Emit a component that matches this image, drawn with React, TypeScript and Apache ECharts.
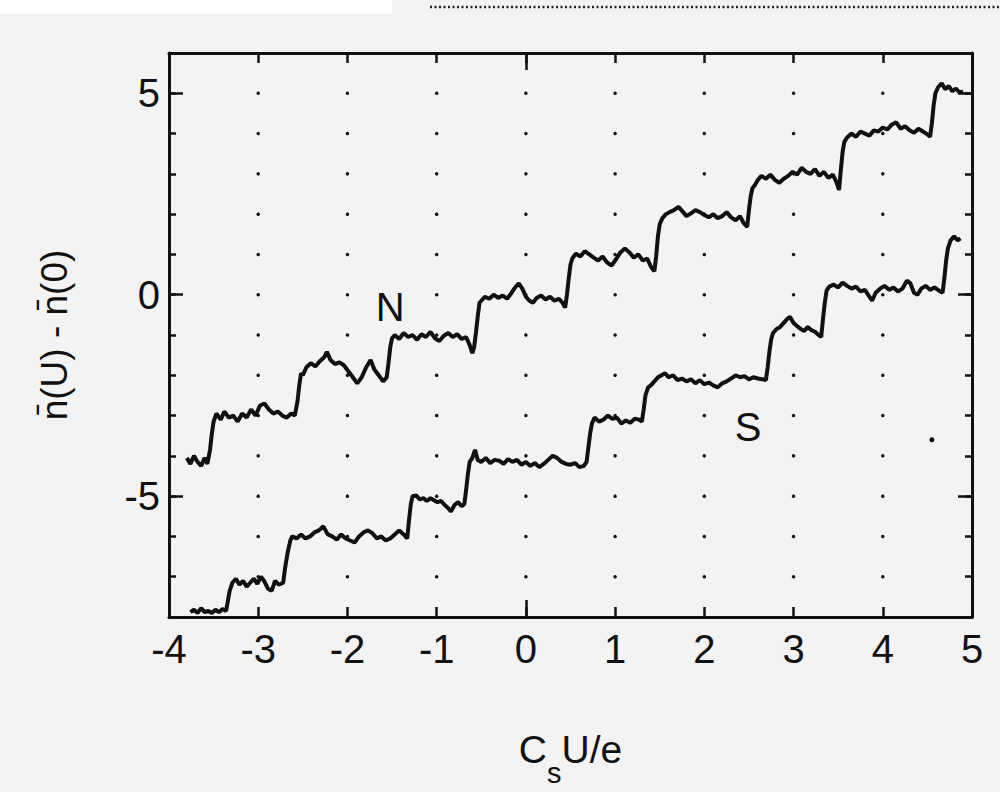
import React, { useEffect, useRef } from 'react';
import * as echarts from 'echarts';

const FONT = "'Liberation Sans', Arial, Helvetica, sans-serif";

const xMin = -4;
const xMax = 5;
const yMin = -8;
const yMax = 6;
const yLabelValues = [-5, 0, 5];
const longTickX = [0];
const longTickY = [-5, 0, 5];
const gridDotXs = [-3, -2, -1, 0, 1, 2, 3, 4];
const gridDotYs = [-7, -6, -5, -4, -3, -2, -1, 0, 1, 2, 3, 4, 5];

const nPoints: [number, number][] = [
  [-3.80, -4.05], [-3.76, -4.20], [-3.72, -4.00], [-3.68, -4.15], [-3.64, -4.25], [-3.60, -4.05], [-3.57, -4.20],
  [-3.54, -3.85], [-3.52, -3.45], [-3.50, -3.15],
  [-3.47, -2.95], [-3.42, -3.10], [-3.38, -2.90], [-3.33, -3.05], [-3.28, -3.00], [-3.23, -3.15], [-3.18, -2.95],
  [-3.13, -3.05], [-3.08, -2.85], [-3.03, -3.00], [-2.98, -2.75], [-2.93, -2.70], [-2.88, -2.85], [-2.83, -2.95],
  [-2.78, -2.90], [-2.73, -3.00], [-2.68, -3.05], [-2.63, -2.95], [-2.59, -3.00],
  [-2.56, -2.65], [-2.54, -2.25], [-2.52, -1.95],
  [-2.50, -2.00], [-2.46, -1.80], [-2.41, -1.70], [-2.36, -1.78], [-2.31, -1.65], [-2.26, -1.55], [-2.23, -1.42],
  [-2.19, -1.62], [-2.14, -1.72], [-2.09, -1.68], [-2.04, -1.75], [-1.99, -1.90], [-1.94, -2.05], [-1.89, -2.20],
  [-1.84, -2.05], [-1.79, -1.80], [-1.74, -1.62], [-1.70, -1.85], [-1.65, -2.00], [-1.60, -2.15], [-1.56, -2.05],
  [-1.54, -1.70], [-1.52, -1.30], [-1.50, -1.08],
  [-1.47, -1.00], [-1.42, -1.10], [-1.37, -0.95], [-1.32, -1.05], [-1.27, -1.00], [-1.22, -1.12], [-1.17, -0.98],
  [-1.12, -1.05], [-1.07, -0.92], [-1.02, -1.08], [-0.97, -1.15], [-0.92, -1.02], [-0.87, -0.95], [-0.82, -1.05],
  [-0.77, -0.98], [-0.72, -1.10], [-0.67, -1.05], [-0.63, -1.25], [-0.60, -1.45], [-0.58, -1.30],
  [-0.56, -0.95], [-0.54, -0.55], [-0.52, -0.20],
  [-0.50, -0.15], [-0.46, -0.05], [-0.41, -0.10], [-0.36, 0.00], [-0.31, -0.08], [-0.26, -0.02], [-0.21, -0.10],
  [-0.16, 0.05], [-0.12, 0.18], [-0.08, 0.28], [-0.04, 0.15], [0.00, -0.05], [0.04, -0.15], [0.08, -0.20],
  [0.12, -0.08], [0.17, -0.02], [0.22, -0.12], [0.27, -0.05], [0.32, -0.15], [0.37, -0.10], [0.41, -0.20], [0.44, -0.32],
  [0.46, 0.00], [0.48, 0.40], [0.50, 0.75],
  [0.52, 0.90], [0.56, 1.02], [0.61, 0.95], [0.66, 1.08], [0.71, 1.00], [0.76, 0.92], [0.81, 0.85], [0.86, 0.95],
  [0.91, 0.80], [0.96, 0.72], [1.01, 0.88], [1.06, 1.05], [1.11, 1.15], [1.16, 1.05], [1.21, 0.92], [1.26, 1.00],
  [1.31, 0.85], [1.36, 0.90], [1.40, 0.70], [1.44, 0.58],
  [1.46, 0.95], [1.48, 1.45], [1.50, 1.75],
  [1.53, 1.90], [1.57, 2.00], [1.61, 2.05], [1.66, 2.10], [1.71, 2.18], [1.75, 2.08], [1.80, 1.95], [1.85, 2.02],
  [1.90, 2.10], [1.95, 2.05], [2.00, 1.98], [2.05, 1.92], [2.10, 2.00], [2.15, 1.90], [2.20, 1.95], [2.25, 2.05],
  [2.30, 1.92], [2.35, 1.85], [2.40, 1.95], [2.44, 1.78], [2.48, 1.68],
  [2.50, 2.10], [2.52, 2.45], [2.54, 2.65],
  [2.56, 2.70], [2.60, 2.85], [2.64, 2.95], [2.69, 2.88], [2.74, 2.98], [2.79, 2.85], [2.84, 2.78], [2.89, 2.88],
  [2.94, 2.95], [2.99, 3.05], [3.04, 2.98], [3.09, 3.15], [3.14, 3.05], [3.19, 3.00], [3.24, 3.12], [3.29, 2.95],
  [3.34, 3.05], [3.39, 2.90], [3.44, 2.98], [3.48, 2.80], [3.51, 2.60],
  [3.53, 3.10], [3.55, 3.55], [3.57, 3.80],
  [3.60, 3.90], [3.65, 4.00], [3.70, 3.92], [3.75, 4.05], [3.80, 4.00], [3.85, 3.95], [3.90, 4.08], [3.95, 4.05],
  [4.00, 4.15], [4.05, 4.10], [4.10, 4.22], [4.15, 4.28], [4.20, 4.12], [4.25, 4.18], [4.30, 4.08], [4.35, 4.02],
  [4.40, 4.12], [4.45, 4.05], [4.50, 3.98], [4.53, 3.92],
  [4.55, 4.25], [4.57, 4.70], [4.59, 5.00],
  [4.62, 5.15], [4.66, 5.25], [4.70, 5.10], [4.74, 5.18], [4.78, 5.05], [4.82, 5.12], [4.86, 5.02], [4.90, 5.05],
];

const sPoints: [number, number][] = [
  [-3.76, -7.88], [-3.72, -7.82], [-3.68, -7.90], [-3.64, -7.78], [-3.60, -7.88], [-3.56, -7.85], [-3.52, -7.90],
  [-3.48, -7.82], [-3.44, -7.88], [-3.40, -7.80], [-3.36, -7.85],
  [-3.34, -7.60], [-3.32, -7.35],
  [-3.29, -7.15], [-3.25, -7.05], [-3.21, -7.20], [-3.17, -7.10], [-3.13, -7.25], [-3.09, -7.15], [-3.05, -7.05],
  [-3.01, -7.18], [-2.97, -7.00], [-2.93, -7.12], [-2.89, -7.30], [-2.85, -7.35], [-2.81, -7.10], [-2.77, -7.20],
  [-2.72, -7.15], [-2.70, -6.80], [-2.67, -6.40], [-2.64, -6.10],
  [-2.62, -6.00], [-2.57, -6.05], [-2.52, -5.95], [-2.47, -6.05], [-2.42, -6.00], [-2.37, -5.90], [-2.32, -5.85],
  [-2.27, -5.75], [-2.22, -5.95], [-2.17, -6.00], [-2.12, -6.08], [-2.07, -5.95], [-2.02, -6.05], [-1.97, -6.10],
  [-1.92, -6.15], [-1.87, -6.00], [-1.82, -5.90], [-1.77, -5.85], [-1.72, -5.92], [-1.67, -6.05], [-1.62, -6.00],
  [-1.57, -6.10], [-1.52, -6.05], [-1.47, -5.95], [-1.42, -5.85], [-1.37, -5.95], [-1.33, -6.05],
  [-1.31, -5.60], [-1.29, -5.20],
  [-1.27, -5.00], [-1.23, -4.98], [-1.19, -5.08], [-1.15, -5.05], [-1.11, -5.12], [-1.07, -5.05], [-1.03, -5.10],
  [-0.99, -5.15], [-0.95, -5.12], [-0.91, -5.22], [-0.87, -5.30], [-0.84, -5.38], [-0.80, -5.22], [-0.76, -5.15],
  [-0.72, -5.25], [-0.69, -5.20],
  [-0.67, -4.85], [-0.65, -4.45], [-0.63, -4.15],
  [-0.60, -4.05], [-0.57, -3.85], [-0.54, -4.10], [-0.50, -4.15], [-0.45, -4.05], [-0.40, -4.18], [-0.35, -4.10],
  [-0.30, -4.12], [-0.25, -4.20], [-0.20, -4.08], [-0.15, -4.15], [-0.10, -4.10], [-0.05, -4.22], [0.00, -4.15],
  [0.05, -4.25], [0.10, -4.18], [0.15, -4.28], [0.20, -4.20], [0.25, -4.10], [0.30, -4.00], [0.35, -4.05],
  [0.40, -4.15], [0.45, -4.20], [0.50, -4.22], [0.55, -4.18], [0.60, -4.28], [0.65, -4.25], [0.68, -4.15],
  [0.70, -3.80], [0.72, -3.45], [0.74, -3.20],
  [0.77, -3.05], [0.82, -3.15], [0.87, -3.10], [0.92, -3.00], [0.97, -3.08], [1.02, -3.05], [1.07, -3.20],
  [1.12, -3.12], [1.17, -3.18], [1.22, -3.08], [1.27, -3.10], [1.30, -3.15],
  [1.32, -2.85], [1.34, -2.50], [1.37, -2.30],
  [1.40, -2.25], [1.44, -2.15], [1.48, -2.05], [1.52, -2.00], [1.56, -1.95], [1.60, -2.05], [1.65, -2.00],
  [1.70, -2.12], [1.75, -2.08], [1.80, -2.15], [1.85, -2.10], [1.90, -2.20], [1.95, -2.12], [2.00, -2.22],
  [2.05, -2.18], [2.10, -2.25], [2.15, -2.30], [2.20, -2.20], [2.25, -2.15], [2.30, -2.08], [2.35, -2.00],
  [2.40, -2.05], [2.45, -2.02], [2.50, -2.10], [2.55, -2.05], [2.60, -2.08], [2.65, -2.10], [2.69, -2.12],
  [2.71, -1.80], [2.73, -1.40], [2.75, -1.10],
  [2.77, -0.95], [2.81, -0.85], [2.85, -0.80], [2.89, -0.70], [2.93, -0.60], [2.96, -0.55], [3.00, -0.70],
  [3.04, -0.78], [3.08, -0.85], [3.12, -0.90], [3.16, -0.80], [3.20, -0.88], [3.24, -0.92], [3.28, -1.00], [3.31, -1.05],
  [3.33, -0.60], [3.35, -0.20], [3.37, 0.10],
  [3.40, 0.20], [3.45, 0.25], [3.50, 0.18], [3.55, 0.30], [3.60, 0.22], [3.65, 0.15], [3.70, 0.20], [3.75, 0.08],
  [3.80, 0.12], [3.85, -0.05], [3.88, -0.15], [3.92, 0.05], [3.97, 0.15], [4.02, 0.22], [4.07, 0.12], [4.12, 0.18],
  [4.17, 0.08], [4.22, 0.15], [4.27, 0.35], [4.31, 0.28], [4.35, 0.05], [4.39, 0.00], [4.43, 0.15], [4.48, 0.22],
  [4.53, 0.12], [4.58, 0.18], [4.63, 0.10], [4.67, 0.05],
  [4.69, 0.40], [4.71, 0.85], [4.73, 1.15],
  [4.76, 1.35], [4.80, 1.45], [4.84, 1.35], [4.87, 1.40],
];

const strayPoints: [number, number][] = [[4.55, -3.6]];

const curveLabels: [number, number, string][] = [
  [-1.52, -0.3, 'N'],
  [2.49, -3.29, 'S'],
];

const INK = '#111';

export default function App() {
  const ref = useRef<HTMLDivElement>(null);

  useEffect(() => {
    if (!ref.current) return;
    const chart = echarts.init(ref.current, null, { renderer: 'svg' });

    const gridDots: [number, number][] = [];
    gridDotXs.forEach((x) => gridDotYs.forEach((y) => gridDots.push([x, y])));

    const baseX = {
      type: 'value' as const,
      min: xMin,
      max: xMax,
      interval: 1,
      splitLine: { show: false },
    };
    const baseY = {
      type: 'value' as const,
      min: yMin,
      max: yMax,
      interval: 1,
      splitLine: { show: false },
    };
    const line = { show: true, onZero: false, lineStyle: { color: INK, width: 3 } };
    const noLine = { show: false, onZero: false };
    const tick = (length: number, customValues?: number[]) => ({
      show: true,
      inside: true,
      length,
      ...(customValues ? { customValues } : {}),
      lineStyle: { color: INK, width: 2.5 },
    });

    chart.setOption({
      animation: false,
      backgroundColor: '#f3f3f3',
      grid: { left: 169, top: 53, width: 803, height: 570 },
      graphic: [
        { type: 'rect', shape: { x: 0, y: 0, width: 392, height: 14 }, style: { fill: '#ffffff' }, silent: true },
        {
          type: 'line',
          shape: { x1: 430, y1: 7, x2: 1000, y2: 7 },
          style: { stroke: '#222', lineWidth: 2.5, lineDash: [2, 2.5] },
          silent: true,
        },
      ],
      xAxis: [
        {
          ...baseX,
          position: 'bottom',
          axisLine: line,
          axisTick: tick(10),
          axisLabel: { show: true, color: INK, fontSize: 40, fontFamily: FONT, margin: 12 },
          name: '{c|C}{s|s}{c|U/e}',
          nameLocation: 'middle',
          nameGap: 94,
          nameTextStyle: {
            color: INK,
            fontFamily: FONT,
            fontSize: 39,
            lineHeight: 76,
            rich: {
              c: { fontSize: 39, fontFamily: FONT, color: INK },
              s: { fontSize: 29, fontFamily: FONT, color: INK, verticalAlign: 'bottom' },
            },
          },
        },
        { ...baseX, position: 'bottom', axisLine: noLine, axisTick: tick(17, longTickX), axisLabel: { show: false } },
        { ...baseX, position: 'top', axisLine: line, axisTick: tick(10), axisLabel: { show: false } },
        { ...baseX, position: 'top', axisLine: noLine, axisTick: tick(17, longTickX), axisLabel: { show: false } },
      ],
      yAxis: [
        {
          ...baseY,
          position: 'left',
          axisLine: line,
          axisTick: tick(7),
          axisLabel: { show: true, customValues: yLabelValues, color: INK, fontSize: 40, fontFamily: FONT, margin: 9 },
          name: 'n\u0304(U) - n\u0304(0)',
          nameLocation: 'middle',
          nameGap: 96,
          nameTextStyle: { color: INK, fontFamily: FONT, fontSize: 37 },
        },
        { ...baseY, position: 'left', axisLine: noLine, axisTick: tick(14, longTickY), axisLabel: { show: false } },
        { ...baseY, position: 'right', axisLine: line, axisTick: tick(7), axisLabel: { show: false } },
        { ...baseY, position: 'right', axisLine: noLine, axisTick: tick(14, longTickY), axisLabel: { show: false } },
      ],
      series: [
        {
          type: 'scatter',
          name: 'grid',
          data: gridDots,
          symbol: 'circle',
          symbolSize: 3.5,
          itemStyle: { color: INK, opacity: 1 },
          silent: true,
          xAxisIndex: 0,
          yAxisIndex: 0,
        },
        {
          type: 'line',
          name: 'N',
          data: nPoints,
          showSymbol: false,
          lineStyle: { color: INK, width: 4 },
          xAxisIndex: 0,
          yAxisIndex: 0,
        },
        {
          type: 'line',
          name: 'S',
          data: sPoints,
          showSymbol: false,
          lineStyle: { color: INK, width: 4 },
          xAxisIndex: 0,
          yAxisIndex: 0,
        },
        {
          type: 'scatter',
          name: 'stray',
          data: strayPoints,
          symbolSize: 5,
          itemStyle: { color: INK, opacity: 1 },
          xAxisIndex: 0,
          yAxisIndex: 0,
        },
        {
          type: 'scatter',
          name: 'labels',
          data: curveLabels,
          symbolSize: 0,
          itemStyle: { color: INK, opacity: 1 },
          xAxisIndex: 0,
          yAxisIndex: 0,
          label: {
            show: true,
            position: 'inside',
            formatter: (p: any) => p.value[2],
            color: INK,
            textBorderWidth: 0,
            fontSize: 40,
            fontFamily: FONT,
          },
        },
      ],
    });

    return () => chart.dispose();
  }, []);

  return (
    <div
      ref={ref}
      style={{ position: 'fixed', left: 0, top: 0, width: 1000, height: 792 }}
    />
  );
}
